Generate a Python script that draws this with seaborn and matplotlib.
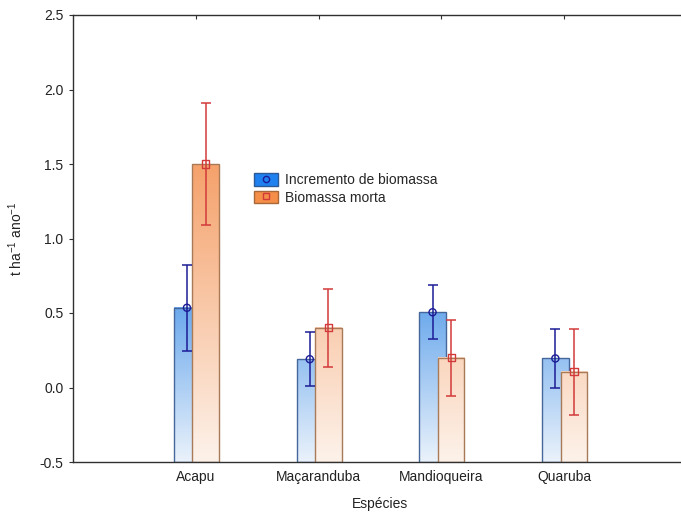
import numpy as np
import matplotlib
matplotlib.use("Agg")
import matplotlib.pyplot as plt
import seaborn as sns
import pandas as pd
from matplotlib.colors import LinearSegmentedColormap, Normalize
from matplotlib.patches import Patch
from matplotlib.lines import Line2D
from matplotlib.legend_handler import HandlerTuple

# valores (t ha-1 ano-1)
especies = ["Acapu", "Maçaranduba", "Mandioqueira", "Quaruba"]
incremento = [0.535, 0.19, 0.505, 0.195]
incremento_err = [0.29, 0.18, 0.18, 0.20]
morta = [1.50, 0.40, 0.20, 0.105]
morta_err = [0.41, 0.26, 0.255, 0.29]
series = ["Incremento de biomassa", "Biomassa morta"]

BASE = -0.5

sns.set_style("ticks")
plt.rcParams["font.family"] = ["Liberation Sans", "DejaVu Sans"]
plt.rcParams["font.size"] = 10

fig = plt.figure(figsize=(6.81, 5.14), dpi=100)
ax = fig.add_axes([73 / 681, 52 / 514, 614 / 681, 447 / 514])

cmap_azul = LinearSegmentedColormap.from_list("azul", ["#eaf2fb", "#6aa8ec"])
cmap_lar = LinearSegmentedColormap.from_list("laranja", ["#fdf2ea", "#f5a26c"])

config = [
    # valores, erros, deslocamento, cmap, norma, borda, cor do erro, marcador
    (incremento, incremento_err, -0.072, cmap_azul, Normalize(-0.5, 0.55),
     "#45679c", "#1c1c96", "o", 1),
    (morta, morta_err, 0.08, cmap_lar, Normalize(-0.5, 1.5),
     "#a87a58", "#d23a3a", "s", 2),
]
width = 0.215
x = np.arange(len(especies))

for vals, errs, off, cmap, norm, edge, ecol, mk, z in config:
    for xi, v in zip(x, vals):
        x0 = xi + off - width / 2
        grad = np.linspace(BASE, v, 100).reshape(-1, 1)
        ax.imshow(grad, extent=[x0, x0 + width, BASE, v], origin="lower",
                  aspect="auto", cmap=cmap, norm=norm, zorder=z,
                  interpolation="bilinear")
    ax.bar(x + off, np.array(vals) - BASE, width=width, bottom=BASE,
           facecolor="none", edgecolor=edge, linewidth=1.0, zorder=z + 0.1)
    ax.errorbar(x + off, vals, yerr=errs, fmt="none", ecolor=ecol,
                elinewidth=1.1, capsize=3.6, capthick=1.1, zorder=z + 3)
    df = pd.DataFrame({"x": x + off, "y": vals})
    sns.scatterplot(data=df, x="x", y="y", marker=mk, s=26, ax=ax,
                    color=ecol, linewidth=1.0, zorder=z + 4)
    ax.collections[-1].set_facecolor("none")
    ax.collections[-1].set_edgecolor(ecol)

ax.set_xlim(-1, 4)
ax.set_ylim(-0.5, 2.5)
ax.set_xticks(x)
ax.set_xticklabels(especies)
ax.set_yticks(np.arange(-0.5, 2.51, 0.5))
ax.set_yticklabels([f"{t:.1f}" for t in np.arange(-0.5, 2.51, 0.5)])

for s in ["left", "bottom", "top"]:
    ax.spines[s].set_visible(True)
    ax.spines[s].set_color("#303030")
    ax.spines[s].set_linewidth(1.0)
ax.spines["right"].set_visible(False)

ax.tick_params(axis="x", direction="in", top=True, length=3, pad=6,
               colors="#303030", labelcolor="#222222")
ax.tick_params(axis="y", direction="out", length=3, pad=4,
               colors="#303030", labelcolor="#222222")

ax.set_xlabel("Espécies", color="#222222")
ax.xaxis.set_label_coords(0.5, -0.078)
ax.set_ylabel(r"t ha$^{\mathregular{-1}}$ ano$^{\mathregular{-1}}$", color="#222222")
ax.yaxis.set_label_coords(-0.078, 0.5)

h1 = (Patch(facecolor="#1f80f0", edgecolor="#2c5a96"),
      Line2D([], [], marker="o", ls="none", mfc="none", mec="#1c1c96", ms=4.5))
h2 = (Patch(facecolor="#f58e48", edgecolor="#a8683a"),
      Line2D([], [], marker="s", ls="none", mfc="none", mec="#d23a3a", ms=4.5))
ax.legend([h1, h2], series, handler_map={tuple: HandlerTuple(ndivide=1, pad=0)},
          loc="upper left", bbox_to_anchor=(0.295, 0.646), frameon=False,
          handlelength=1.7, handleheight=1.0, handletextpad=0.5,
          labelspacing=0.25, borderpad=0, borderaxespad=0)

fig.savefig("out.png", dpi=100)
